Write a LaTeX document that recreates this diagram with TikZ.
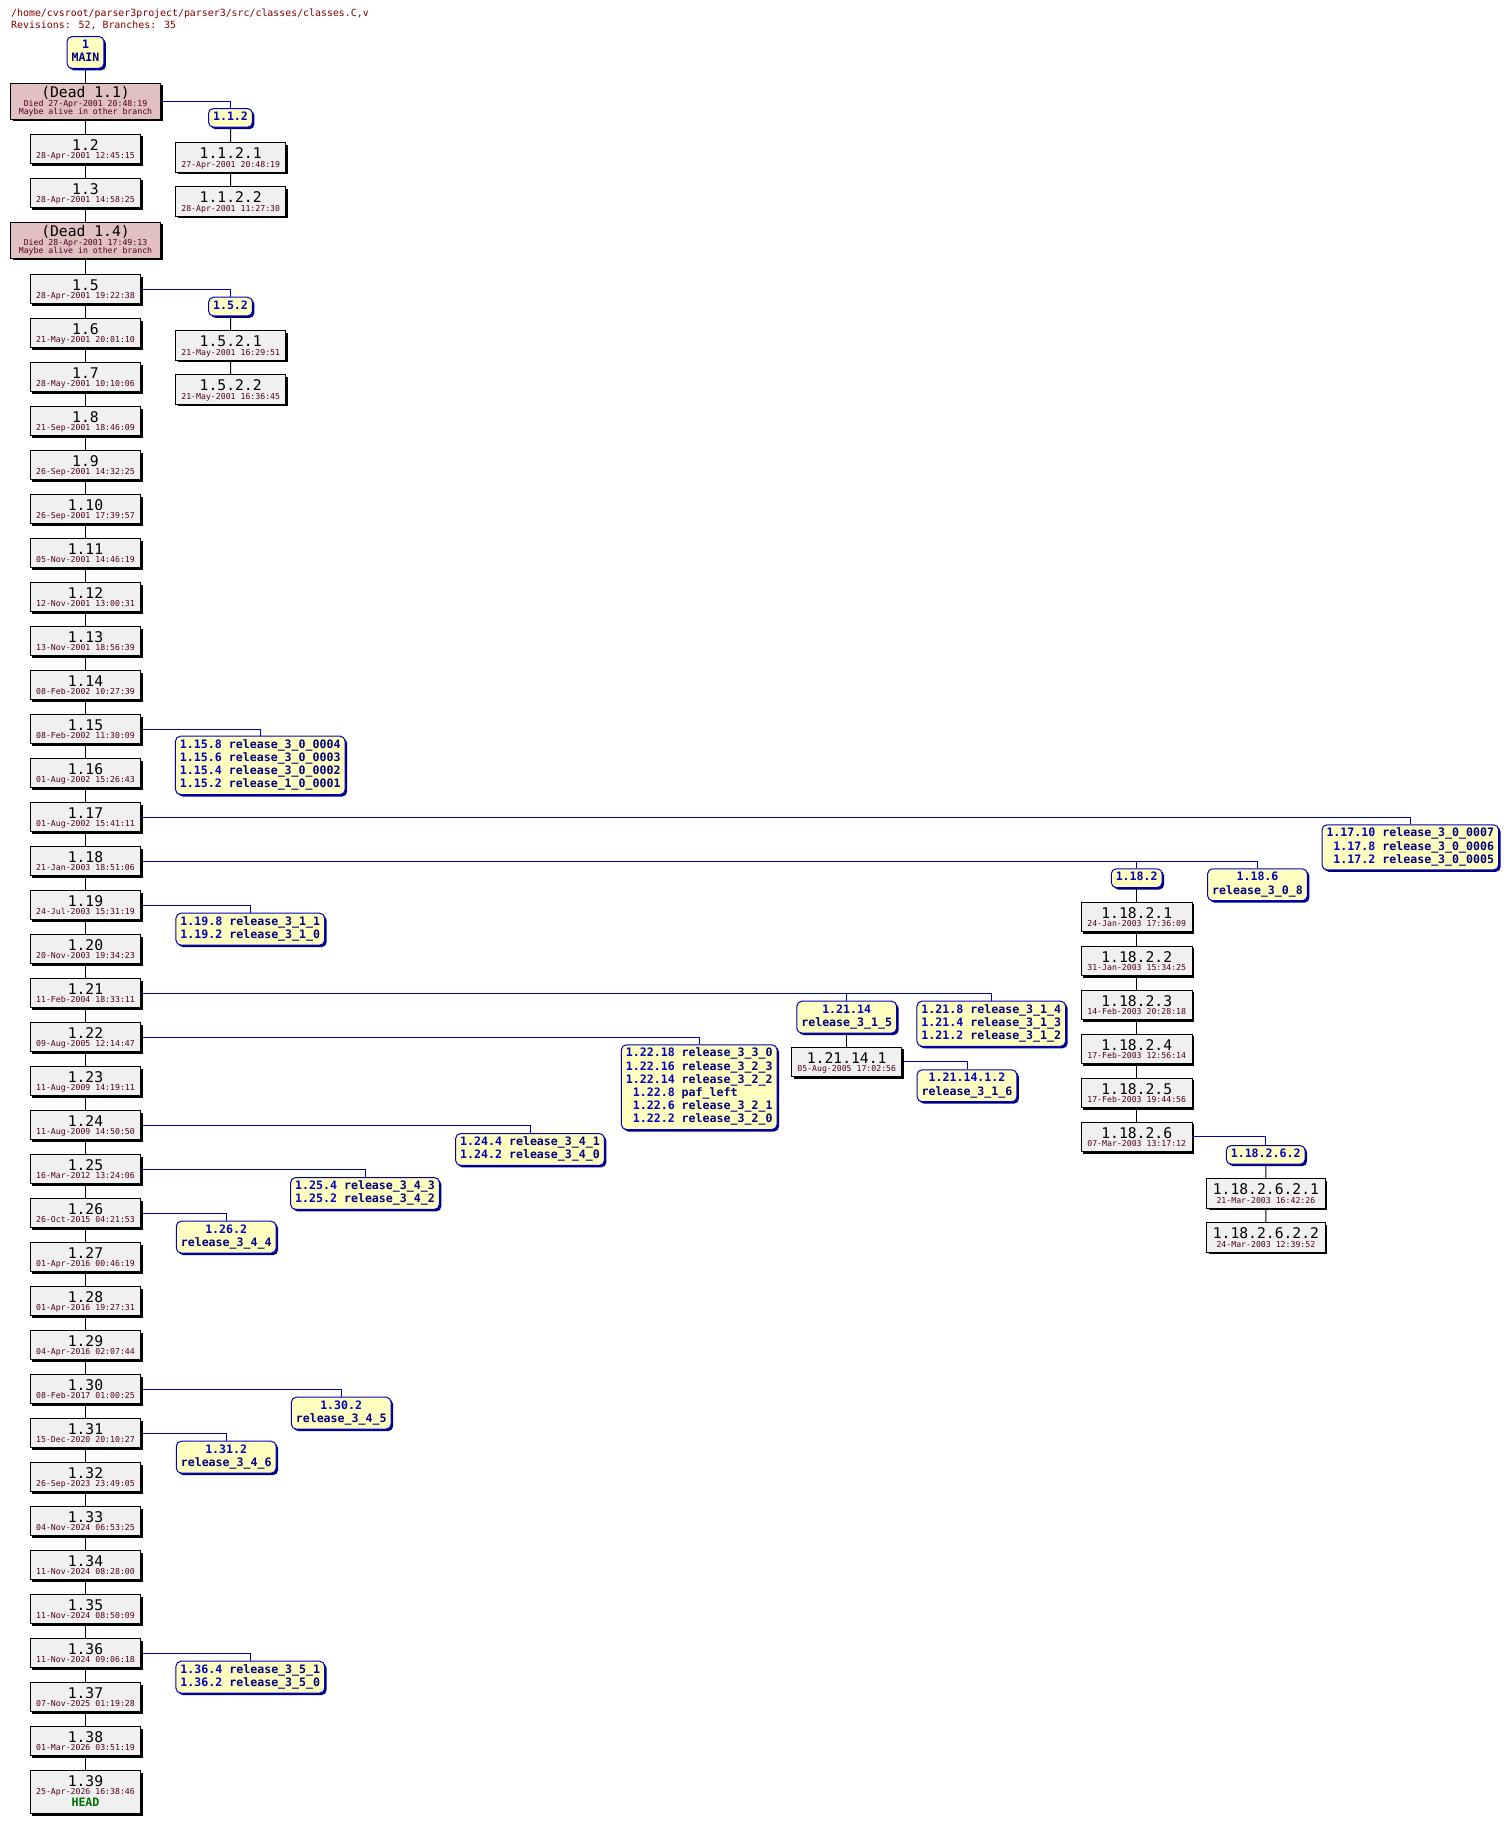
\documentclass[tikz,border=0pt]{standalone}
\usepackage{fontspec}
\usetikzlibrary{shadows,backgrounds}
\newfontfamily\dvm{DejaVu Sans Mono}
\definecolor{revgray}{HTML}{F0F0F0}
\definecolor{deadpink}{HTML}{E0C0C0}
\definecolor{tagyellow}{HTML}{FFFFC0}
\definecolor{brblue}{HTML}{0000C0}
\definecolor{navy}{HTML}{000080}
\definecolor{datered}{HTML}{500020}
\definecolor{titlered}{HTML}{800000}
\definecolor{headgreen}{HTML}{007000}
\newcommand\revfont{\dvm\fontsize{14.7}{16}\selectfont}
\newcommand\datefont{\dvm\fontsize{8.2}{9}\selectfont}
\newcommand\tagfont{\dvm\bfseries\fontsize{11.6}{13.2}\selectfont}
\newcommand\titlefont{\dvm\fontsize{9.9}{11.6}\selectfont}
\newcommand\tr[1]{\textcolor{brblue}{#1}}
\newcommand\tn[1]{\textcolor{navy}{#1}}
\tikzset{
 revbox/.style={draw=black, fill=revgray, line width=1pt, inner sep=0pt,
   drop shadow={shadow xshift=2pt, shadow yshift=-2pt, fill=black, opacity=1}},
 deadbox/.style={revbox, fill=deadpink},
 tagbox/.style={draw=brblue, fill=tagyellow, line width=1pt, rounded corners=5pt,
   inner xsep=4.5pt, inner ysep=2.75pt, anchor=north, font=\tagfont,
   drop shadow={shadow xshift=2pt, shadow yshift=-2pt, fill=navy, opacity=1}},
 revlbl/.style={anchor=base, inner sep=0pt, font=\revfont},
 revdt/.style={anchor=base, inner sep=0pt, font=\datefont, text=datered},
 titletext/.style={anchor=base west, inner sep=0pt, font=\titlefont, text=titlered},
 trunk/.style={draw=black, line width=1pt},
 brline/.style={draw=brblue, line width=1pt},
}
\newcommand\RevNode[6]{%
 \node[revbox, minimum width=#4pt, minimum height=29.3pt] (#1) at (#2,{#3+14.65}) {};
 \node[revlbl] at (#2,{#3+16}) {#5};
 \node[revdt] at (#2,{#3+24.4}) {#6};}
\begin{document}
\begin{tikzpicture}[x=1pt,y=-1pt]
\useasboundingbox (0,0) rectangle (1509,1823);
% title
\node[titletext] (ttl1) at (11,16.7) {/home/cvsroot/parser3project/parser3/src/classes/classes.C,v};
\node[titletext] (ttl2) at (11,28.3) {Revisions: 52, Branches: 35};
% MAIN
\node[tagbox] (gmain) at (85.5,36) {\begin{tabular}{@{}c@{}}\tr{1}\\\tn{MAIN}\end{tabular}};
% dead 1.1
\node[deadbox, minimum width=150pt, minimum height=36pt] (m1) at (85.5,101) {};
\node[revlbl] at (85.5,97.3) {(Dead 1.1)};
\node[revdt] at (85.5,106) {Died 27-Apr-2001 20:48:19};
\node[revdt] at (85.5,114.7) {Maybe alive in other branch};
\RevNode{m2}{85.5}{134.3}{110.4}{1.2}{28-Apr-2001 12:45:15}
\RevNode{m3}{85.5}{178.3}{110.4}{1.3}{28-Apr-2001 14:58:25}
% dead 1.4
\node[deadbox, minimum width=150pt, minimum height=36pt] (m4) at (85.5,240) {};
\node[revlbl] at (85.5,236.3) {(Dead 1.4)};
\node[revdt] at (85.5,245) {Died 28-Apr-2001 17:49:13};
\node[revdt] at (85.5,253.7) {Maybe alive in other branch};
% trunk 1.5 .. 1.38
\foreach \n/\d in {5/28-Apr-2001 19:22:38,6/21-May-2001 20:01:10,7/28-May-2001 10:10:06,
  8/21-Sep-2001 18:46:09,9/26-Sep-2001 14:32:25,10/26-Sep-2001 17:39:57,
  11/05-Nov-2001 14:46:19,12/12-Nov-2001 13:00:31,13/13-Nov-2001 18:56:39,
  14/08-Feb-2002 10:27:39,15/08-Feb-2002 11:30:09,16/01-Aug-2002 15:26:43,
  17/01-Aug-2002 15:41:11,18/21-Jan-2003 18:51:06,19/24-Jul-2003 15:31:19,
  20/20-Nov-2003 19:34:23,21/11-Feb-2004 18:33:11,22/09-Aug-2005 12:14:47,
  23/11-Aug-2009 14:19:11,24/11-Aug-2009 14:50:50,25/16-Mar-2012 13:24:06,
  26/26-Oct-2015 04:21:53,27/01-Apr-2016 00:46:19,28/01-Apr-2016 19:27:31,
  29/04-Apr-2016 02:07:44,30/08-Feb-2017 01:00:25,31/15-Dec-2020 20:10:27,
  32/26-Sep-2023 23:49:05,33/04-Nov-2024 06:53:25,34/11-Nov-2024 08:28:00,
  35/11-Nov-2024 08:50:09,36/11-Nov-2024 09:06:18,37/07-Nov-2025 01:19:28,
  38/01-Mar-2026 03:51:19}{%
  \pgfmathsetmacro\tp{274.5+(\n-5)*44}%
  \RevNode{m\n}{85.5}{\tp}{110.4}{1.\n}{\d}}
% 1.39 HEAD
\node[revbox, minimum width=110.4pt, minimum height=43pt] (m39) at (85.5,1792) {};
\node[revlbl] at (85.5,1786.5) {1.39};
\node[revdt] at (85.5,1794.9) {25-Apr-2026 16:38:46};
\node[anchor=base, inner sep=0pt, font=\tagfont, text=headgreen] at (85.5,1806.5) {HEAD};
% branch 1.1.2
\node[tagbox] (g112) at (230.5,108) {\begin{tabular}{@{}c@{}}\tr{1.1.2}\end{tabular}};
\RevNode{b1121}{230.7}{142.7}{110}{1.1.2.1}{27-Apr-2001 20:48:19}
\RevNode{b1122}{230.7}{186.7}{110}{1.1.2.2}{28-Apr-2001 11:27:30}
% branch 1.5.2
\node[tagbox] (g152) at (230.5,296.7) {\begin{tabular}{@{}c@{}}\tr{1.5.2}\end{tabular}};
\RevNode{b1521}{230.7}{330.7}{110}{1.5.2.1}{21-May-2001 16:29:51}
\RevNode{b1522}{230.7}{374.7}{110}{1.5.2.2}{21-May-2001 16:36:45}
% tags 1.15
\node[tagbox] (g115) at (260.3,735.7) {\begin{tabular}{@{}r@{\ }l@{}}
 \tr{1.15.8}&\tn{release\_3\_0\_0004}\\\tr{1.15.6}&\tn{release\_3\_0\_0003}\\
 \tr{1.15.4}&\tn{release\_3\_0\_0002}\\\tr{1.15.2}&\tn{release\_1\_0\_0001}\end{tabular}};
% tags 1.17
\node[tagbox] (g117) at (1410.3,824.3) {\begin{tabular}{@{}r@{\ }l@{}}
 \tr{1.17.10}&\tn{release\_3\_0\_0007}\\\tr{1.17.8}&\tn{release\_3\_0\_0006}\\
 \tr{1.17.2}&\tn{release\_3\_0\_0005}\end{tabular}};
% branch 1.18.2
\node[tagbox] (g1182) at (1136.7,868.3) {\begin{tabular}{@{}c@{}}\tr{1.18.2}\end{tabular}};
\node[tagbox] (g1186) at (1257.5,868.3) {\begin{tabular}{@{}c@{}}\tr{1.18.6}\\\tn{release\_3\_0\_8}\end{tabular}};
\RevNode{b18221}{1136.7}{902.3}{110.7}{1.18.2.1}{24-Jan-2003 17:36:09}
\RevNode{b18222}{1136.7}{946.3}{110.7}{1.18.2.2}{31-Jan-2003 15:34:25}
\RevNode{b18223}{1136.7}{990.3}{110.7}{1.18.2.3}{14-Feb-2003 20:28:18}
\RevNode{b18224}{1136.7}{1034.3}{110.7}{1.18.2.4}{17-Feb-2003 12:56:14}
\RevNode{b18225}{1136.7}{1078.3}{110.7}{1.18.2.5}{17-Feb-2003 19:44:56}
\RevNode{b18226}{1136.7}{1122.3}{110.7}{1.18.2.6}{07-Mar-2003 13:17:12}
\node[tagbox] (g18262) at (1265.7,1145) {\begin{tabular}{@{}c@{}}\tr{1.18.2.6.2}\end{tabular}};
\RevNode{b1822621}{1265.9}{1178.7}{118.3}{1.18.2.6.2.1}{21-Mar-2003 16:42:26}
\RevNode{b1822622}{1265.9}{1222.7}{118.3}{1.18.2.6.2.2}{24-Mar-2003 12:39:52}
% tags 1.19
\node[tagbox] (g119) at (250.3,912.7) {\begin{tabular}{@{}r@{\ }l@{}}
 \tr{1.19.8}&\tn{release\_3\_1\_1}\\\tr{1.19.2}&\tn{release\_3\_1\_0}\end{tabular}};
% 1.21
\node[tagbox] (g12114) at (846.7,1000.7) {\begin{tabular}{@{}c@{}}\tr{1.21.14}\\\tn{release\_3\_1\_5}\end{tabular}};
\node[tagbox] (g1218) at (991.3,1000.7) {\begin{tabular}{@{}r@{\ }l@{}}
 \tr{1.21.8}&\tn{release\_3\_1\_4}\\\tr{1.21.4}&\tn{release\_3\_1\_3}\\
 \tr{1.21.2}&\tn{release\_3\_1\_2}\end{tabular}};
\RevNode{b121141}{846.7}{1047.3}{110}{1.21.14.1}{05-Aug-2005 17:02:56}
\node[tagbox] (g121141) at (967,1069.3) {\begin{tabular}{@{}c@{}}\tr{1.21.14.1.2}\\\tn{release\_3\_1\_6}\end{tabular}};
% 1.22
\node[tagbox] (g122) at (699.2,1044.3) {\begin{tabular}{@{}r@{\ }l@{}}
 \tr{1.22.18}&\tn{release\_3\_3\_0}\\\tr{1.22.16}&\tn{release\_3\_2\_3}\\
 \tr{1.22.14}&\tn{release\_3\_2\_2}\\\tr{1.22.8}&\tn{paf\_left}\\
 \tr{1.22.6}&\tn{release\_3\_2\_1}\\\tr{1.22.2}&\tn{release\_3\_2\_0}\end{tabular}};
% 1.24, 1.25, 1.26
\node[tagbox] (g124) at (530,1133) {\begin{tabular}{@{}r@{\ }l@{}}
 \tr{1.24.4}&\tn{release\_3\_4\_1}\\\tr{1.24.2}&\tn{release\_3\_4\_0}\end{tabular}};
\node[tagbox] (g125) at (365,1177) {\begin{tabular}{@{}r@{\ }l@{}}
 \tr{1.25.4}&\tn{release\_3\_4\_3}\\\tr{1.25.2}&\tn{release\_3\_4\_2}\end{tabular}};
\node[tagbox] (g126) at (226.2,1220.7) {\begin{tabular}{@{}c@{}}\tr{1.26.2}\\\tn{release\_3\_4\_4}\end{tabular}};
% 1.30, 1.31, 1.36
\node[tagbox] (g130) at (341.2,1396.7) {\begin{tabular}{@{}c@{}}\tr{1.30.2}\\\tn{release\_3\_4\_5}\end{tabular}};
\node[tagbox] (g131) at (226.2,1440.7) {\begin{tabular}{@{}c@{}}\tr{1.31.2}\\\tn{release\_3\_4\_6}\end{tabular}};
\node[tagbox] (g136) at (250.3,1660.7) {\begin{tabular}{@{}r@{\ }l@{}}
 \tr{1.36.4}&\tn{release\_3\_5\_1}\\\tr{1.36.2}&\tn{release\_3\_5\_0}\end{tabular}};
% connectors
\begin{scope}[on background layer]
 \draw[trunk] (gmain) -- (m1) -- (m2) -- (m3) -- (m4) -- (m5);
 \foreach \a in {5,...,38}{\pgfmathtruncatemacro\bb{\a+1}\draw[trunk] (m\a) -- (m\bb);}
 \draw[trunk] (g112) -- (b1121) -- (b1122);
 \draw[trunk] (g152) -- (b1521) -- (b1522);
 \draw[trunk] (g1182) -- (b18221) -- (b18222) -- (b18223) -- (b18224) -- (b18225) -- (b18226);
 \draw[trunk] (g18262) -- (b1822621) -- (b1822622);
 \draw[trunk] (g12114) -- (b121141);
 \draw[brline] (m1.east) -| (g112.north);
 \draw[brline] (m5.east) -| (g152.north);
 \draw[brline] (m15.east) -| (g115.north);
 \draw[brline] (m17.east) -| (g117.north);
 \draw[brline] (m18.east) -| (g1182.north);
 \draw[brline] (m18.east) -| (g1186.north);
 \draw[brline] (m19.east) -| (g119.north);
 \draw[brline] (m21.east) -| (g12114.north);
 \draw[brline] (m21.east) -| (g1218.north);
 \draw[brline] (m22.east) -| (g122.north);
 \draw[brline] (m24.east) -| (g124.north);
 \draw[brline] (m25.east) -| (g125.north);
 \draw[brline] (m26.east) -| (g126.north);
 \draw[brline] (m30.east) -| (g130.north);
 \draw[brline] (m31.east) -| (g131.north);
 \draw[brline] (m36.east) -| (g136.north);
 \draw[brline] (b18226.east) -| (g18262.north);
 \draw[brline] (b121141.east) -| (g121141.north);
\end{scope}
\end{tikzpicture}
\end{document}
